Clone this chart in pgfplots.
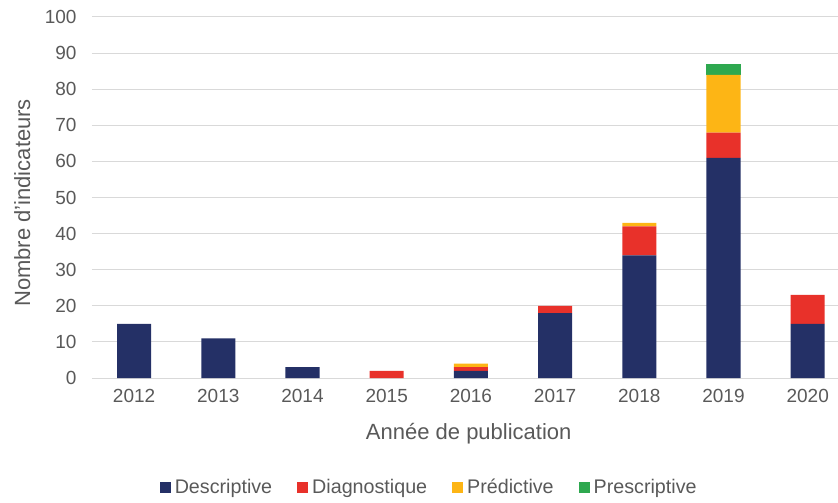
\documentclass[border=0pt]{standalone}
\usepackage{pgfplots}
\pgfplotsset{compat=1.18}
\usepackage{fontspec}
\setmainfont{Liberation Sans}
\definecolor{desc}{HTML}{243066}
\definecolor{diag}{HTML}{E8312A}
\definecolor{pred}{HTML}{FDB515}
\definecolor{presc}{HTML}{2EA84F}
\definecolor{txt}{HTML}{595959}
\definecolor{gridc}{HTML}{D9D9D9}
\begin{document}
\begin{tikzpicture}
\begin{axis}[
    name=ax,
    scale only axis,
    width=746pt, height=361pt,
    ybar stacked, bar width=34pt,
    xmin=-0.5, xmax=8.36,
    ymin=0, ymax=100,
    ytick={0,10,...,100},
    xtick={0,...,8},
    xticklabels={2012,2013,2014,2015,2016,2017,2018,2019,2020},
    /pgf/number format/assume math mode=true,
    ticklabel style={font=\fontsize{19}{22}\selectfont, text=txt},
    label style={font=\fontsize{22}{25}\selectfont, text=txt},
    major tick length=0pt,
    axis x line*=bottom, axis y line*=left,
    x axis line style={draw=gridc, line width=1pt, -},
    y axis line style={draw=none},
    ymajorgrids, grid style={draw=gridc, line width=1pt},
    yticklabel style={xshift=-12pt},
    xticklabel style={yshift=-8pt},
    ylabel={Nombre d'indicateurs},
    ylabel style={at={(rel axis cs:0,0.485)}, anchor=south, yshift=58pt},
    xlabel={Année de publication},
    xlabel style={at={(rel axis cs:0.505,0)}, anchor=center, yshift=-56pt},
    legend style={draw=none, fill=none, text=txt,
        font=\fontsize{19.7}{23}\selectfont,
        at={(rel axis cs:0.452,-0.302)}, anchor=center,
        legend columns=4, /tikz/every even column/.append style={column sep=23pt},
        nodes={inner xsep=2pt}},
    legend image code/.code={\fill[#1] (0pt,-5.5pt) rectangle (11pt,5.5pt); \path (13pt,0pt);},
    legend cell align=left,
]
\addplot[fill=desc, draw=none] coordinates {(0,15) (1,11) (2,3) (3,0) (4,2) (5,18) (6,34) (7,61) (8,15)};
\addlegendentry{Descriptive}
\addplot[fill=diag, draw=none] coordinates {(0,0) (1,0) (2,0) (3,2) (4,1) (5,2) (6,8) (7,7) (8,8)};
\addlegendentry{Diagnostique}
\addplot[fill=pred, draw=none] coordinates {(0,0) (1,0) (2,0) (3,0) (4,1) (5,0) (6,1) (7,16) (8,0)};
\addlegendentry{Prédictive}
\addplot[fill=presc, draw=none] coordinates {(0,0) (1,0) (2,0) (3,0) (4,0) (5,0) (6,0) (7,3) (8,0)};
\addlegendentry{Prescriptive}
\end{axis}
\pgfresetboundingbox
\path ([shift={(-92pt,-124pt)}]ax.south west) rectangle ([shift={(0pt,17pt)}]ax.north east);
\end{tikzpicture}
\end{document}
